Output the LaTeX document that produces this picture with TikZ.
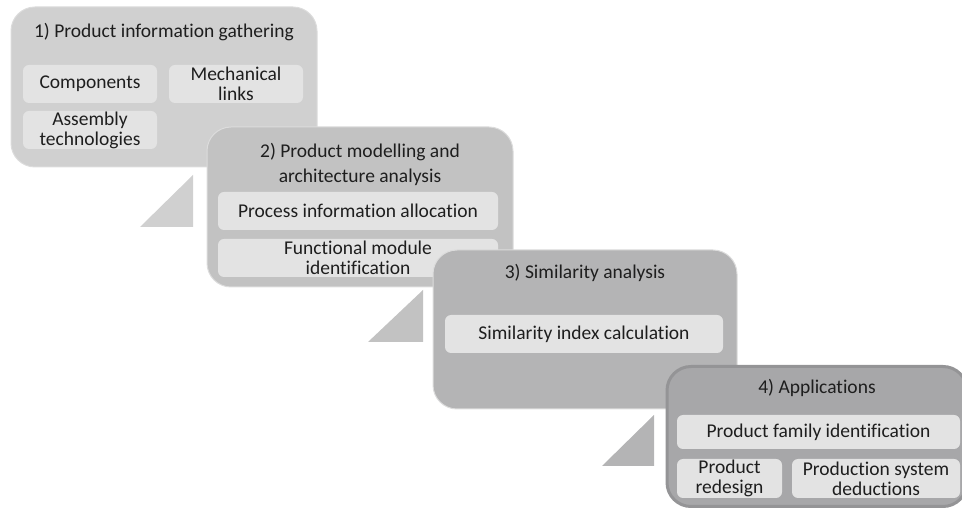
\documentclass[tikz,border=0pt]{standalone}
\usepackage{fontspec}
\setmainfont{Carlito}[Ligatures = NoCommon]
\usepackage{tikz}

\definecolor{stageone}{HTML}{D0D0D0}
\definecolor{stagetwo}{HTML}{C2C2C2}
\definecolor{stagethree}{HTML}{B4B4B5}
\definecolor{stagefour}{HTML}{A7A7A9}
\definecolor{itemgray}{HTML}{E3E3E3}
\definecolor{stageline}{HTML}{DCDCDC}
\definecolor{stageedge}{HTML}{949496}
\definecolor{textgray}{HTML}{1E1E1E}

\begin{document}
\begin{tikzpicture}[x = 1pt, y = -1pt,
        stage/.style = {rounded corners = 24, draw = stageline, line width = 1,
                        minimum width = 306, minimum height = 160, inner sep = 0},
        item/.style = {rounded corners = 6, fill = itemgray, text = textgray,
                       align = center, inner sep = 0,
                       font = \fontsize{19.5}{20}\selectfont},
        heading/.style = {text = textgray, align = center, inner sep = 0,
                          font = \fontsize{19.5}{25}\selectfont}]
        \useasboundingbox (0,0) rectangle (962,510);
        \clip (0,0) rectangle (962,510);

        % 1) information gathering
        \node[stage, fill = stageone] (gather) at (164,87) {};
        \node[heading] (gathertitle) at (164,32) {1) Product information gathering};
        \node[item, minimum width = 134, minimum height = 38] (components) at (90,84) {Components};
        \node[item, minimum width = 134, minimum height = 38] (links) at (236,84) {Mechanical\\links};
        \node[item, minimum width = 134, minimum height = 38] (assembly) at (90,130) {Assembly\\technologies};
        \fill[stageone] (140,227) -- (193,227) -- (193,175) -- cycle;

        % 2) modelling and architecture analysis
        \node[stage, fill = stagetwo] (model) at (360,207) {};
        \node[heading] (modeltitle) at (360,164) {2) Product modelling and\\architecture analysis};
        \node[item, minimum width = 280, minimum height = 38] (allocation) at (358,211) {Process information allocation};
        \node[item, minimum width = 280, minimum height = 38] (modules) at (358,258) {Functional module\\identification};
        \fill[stagetwo] (368,342) -- (423,342) -- (423,290) -- cycle;

        % 3) similarity analysis
        \node[stage, fill = stagethree, minimum width = 304, minimum height = 159] (similarity) at (585,329.5) {};
        \node[heading] (similaritytitle) at (585,273) {3) Similarity analysis};
        \node[item, minimum width = 278, minimum height = 38] (index) at (584,334) {Similarity index calculation};
        \fill[stagethree] (602,466) -- (654,466) -- (654,415) -- cycle;

        % 4) applications
        \node[stage, fill = stagefour, draw = stageedge, line width = 3,
              minimum width = 300, minimum height = 140] (apps) at (817,436.5) {};
        \node[heading] (appstitle) at (817,388) {4) Applications};
        \node[item, minimum width = 283, minimum height = 34] (family) at (818.5,432) {Product family identification};
        \node[item, minimum width = 105, minimum height = 39] (redesign) at (729.5,478.5) {Product\\redesign};
        \node[item, minimum width = 168, minimum height = 39] (deductions) at (876,478.5) {Production system\\deductions};
\end{tikzpicture}
\end{document}
